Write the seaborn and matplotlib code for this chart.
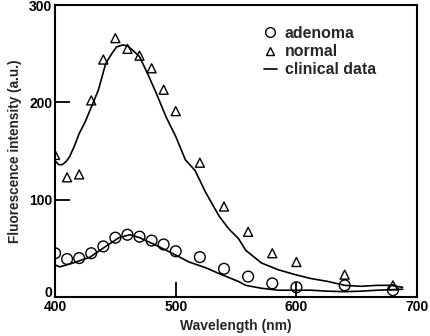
import matplotlib
matplotlib.use('Agg')
import matplotlib.pyplot as plt
import matplotlib.transforms as mtransforms
import seaborn as sns
from matplotlib.lines import Line2D

# measured points
normal_wl = [400, 410, 420, 430, 440, 450, 460, 470, 480, 490, 500, 520, 540, 560, 580, 600, 640, 680]
normal_val = [146, 123, 126, 202, 244, 266, 255, 248, 235, 213, 191, 138, 93, 67, 45, 36, 23, 12]

adenoma_wl = [400, 410, 420, 430, 440, 450, 460, 470, 480, 490, 500, 520, 540, 560, 580, 600, 640, 680]
adenoma_val = [45, 39, 40, 45, 52, 61, 64, 62, 58, 54, 47, 41, 29, 21, 14, 10, 12, 7]

# clinical data curves
clin_n_wl = [400, 403, 406, 409, 412, 416, 420, 425, 429, 436, 442, 447, 451, 456, 460, 464, 470,
             478, 484, 492, 500, 508, 516, 525, 536, 544, 552, 558, 571, 585, 599, 612, 626, 640,
             653, 667, 678, 688]
clin_n_val = [140, 136, 136, 139, 144, 155, 168, 180, 192, 213, 240, 250, 257, 259, 258, 254, 247,
              226, 209, 185, 165, 141, 130, 107, 83, 70, 60, 48, 35, 28, 23, 19, 16, 12,
              11, 12, 12, 10]

clin_a_wl = [400, 404, 415, 429, 442, 453, 462, 470, 484, 497, 511, 525, 538, 552, 558, 571, 585,
             600, 612, 626, 640, 653, 667, 688]
clin_a_val = [33, 31, 35, 41, 52, 61, 64, 61, 53, 45, 36, 30, 23, 16, 12, 9, 7,
              7, 7, 6, 5.5, 6, 7, 8]

sns.set_theme(style='ticks')
plt.rcParams['font.family'] = ['Liberation Sans', 'DejaVu Sans']
plt.rcParams['font.weight'] = 'bold'

fig = plt.figure(figsize=(4.3, 3.36), dpi=100)
ax = fig.add_axes([0.128, 0.116, 0.842, 0.869])

sns.lineplot(x=clin_n_wl, y=clin_n_val, ax=ax, color='black', linewidth=1.2, estimator=None, sort=False)
sns.lineplot(x=clin_a_wl, y=clin_a_val, ax=ax, color='black', linewidth=1.2, estimator=None, sort=False)

sns.scatterplot(x=normal_wl, y=normal_val, ax=ax, marker='^', s=42, facecolor='none',
                edgecolor='black', linewidth=1.0, zorder=3)
sns.scatterplot(x=adenoma_wl, y=adenoma_val, ax=ax, marker='o', s=60, facecolor='none',
                edgecolor='black', linewidth=1.0, zorder=3)

ax.set_xlim(400, 700)
ax.set_ylim(0, 300)
ax.set_xticks([400, 500, 600, 700])
ax.set_yticks([0, 100, 200, 300])
ax.tick_params(direction='in', length=11, width=1.3, labelsize=10, colors='black', pad=2)
for lab in ax.get_xticklabels() + ax.get_yticklabels():
    lab.set_fontweight('bold')
# nudge the "0" label up so it sits above the "400"
zero = ax.get_yticklabels()[0]
zero.set_transform(zero.get_transform() + mtransforms.ScaledTranslation(0, 4 / 72, fig.dpi_scale_trans))
for sp in ax.spines.values():
    sp.set_visible(True)
    sp.set_linewidth(1.5)
    sp.set_color('black')

ax.set_xlabel('Wavelength (nm)', fontsize=10, fontweight='bold', labelpad=4)
ax.set_ylabel('Fluorescence intensity (a.u.)', fontsize=9.8, fontweight='bold', labelpad=5)

handles = [
    Line2D([], [], marker='o', linestyle='none', markerfacecolor='none', markeredgecolor='black', markersize=7),
    Line2D([], [], marker='^', linestyle='none', markerfacecolor='none', markeredgecolor='black', markersize=6),
    Line2D([], [], color='black', linewidth=1.2),
]
ax.legend(handles, ['adenoma', 'normal', 'clinical data'], loc='upper left',
          bbox_to_anchor=(0.56, 0.95), frameon=False, handlelength=0.8, handletextpad=0.5,
          labelspacing=0.2, borderaxespad=0, prop={'weight': 'bold', 'size': 11.4})

fig.savefig('out.png', dpi=100)
